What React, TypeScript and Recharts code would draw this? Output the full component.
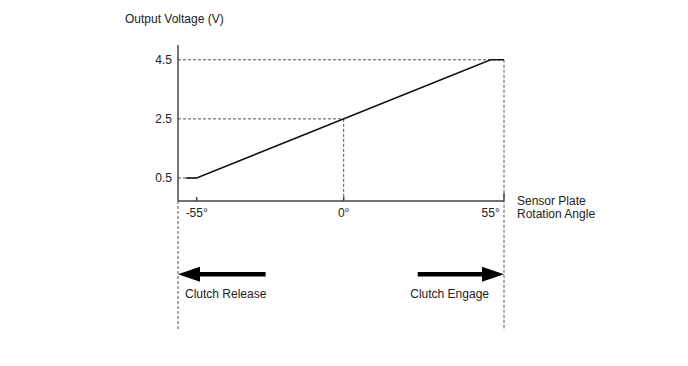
import React from "react";
import { ComposedChart, Line, XAxis, YAxis, ReferenceLine } from "recharts";

// Data
const angles = [-59, -55, 55, 60];
const voltages = [0.5, 0.5, 4.5, 4.5];
const xTicks = [-55, 0, 55];
const yTicks = [0.5, 2.5, 4.5];
const xDomain = [-62, 60];
const yDomain = [-0.28, 5];
const lineData = angles.map((a, i) => ({ a, v: voltages[i] }));

// annotation values (data units)
const lowerExtent = -4.66;
const arrowLevel = -2.76;
const releaseArrow = { from: -29.2, to: -62, label: "Clutch Release" };
const engageArrow = { from: 27.7, to: 60, label: "Clutch Engage" };

const FONT = "Liberation Sans, Arial, sans-serif";
const FS = 12;
const TEXT = "#222";
const DASH = "#555";

const XTick = (props: any) => {
  const { x, y, payload } = props;
  const v = payload.value;
  return (
    <g>
      {v !== 55 && <line x1={x} y1={y - 4} x2={x} y2={y} stroke="#444" strokeWidth={1.5} />}
      <text x={x} y={y + 16} textAnchor="middle" fontSize={FS} fontFamily={FONT} fill={TEXT}>
        {`${v}°`}
      </text>
    </g>
  );
};

const makeArrow = (label: string, labelLeft: boolean) => (props: any) => {
  const { x1, y1, x2, y2 } = props;
  const dir = x2 > x1 ? 1 : -1;
  const headLen = 22;
  const half = 7.5;
  const baseX = x2 - dir * headLen;
  const textX = labelLeft ? Math.min(x1, x2) + 7 : Math.max(x1, x2) - 15;
  return (
    <g>
      <line x1={x1} y1={y1} x2={baseX} y2={y2} stroke="#000" strokeWidth={4.5} />
      <polygon points={`${x2},${y2} ${baseX},${y2 - half} ${baseX},${y2 + half}`} fill="#000" />
      <text
        x={textX}
        y={y1 + 24}
        textAnchor={labelLeft ? "start" : "end"}
        fontSize={FS}
        fontFamily={FONT}
        fill={TEXT}
      >
        {label}
      </text>
    </g>
  );
};

export default function App() {
  return (
    <div style={{ position: "absolute", left: 0, top: 0, background: "#fff" }}>
      <ComposedChart
        width={688}
        height={366}
        margin={{ top: 45, right: 184, bottom: 135, left: 138 }}
      >
        <XAxis
          dataKey="a"
          type="number"
          domain={xDomain}
          ticks={xTicks}
          allowDataOverflow
          tickSize={0}
          tickMargin={0}
          tickLine={false}
          tick={<XTick />}
          height={30}
          axisLine={{ stroke: "#444", strokeWidth: 1.5 }}
          label={{
            content: (p: any) => {
              const vb = p.viewBox;
              const x = vb.x + vb.width + 13;
              return (
                <text fontSize={FS} fontFamily={FONT} fill={TEXT}>
                  <tspan x={x} y={vb.y + 4}>Sensor Plate</tspan>
                  <tspan x={x} y={vb.y + 17}>Rotation Angle</tspan>
                </text>
              );
            },
          }}
        />
        <YAxis
          type="number"
          domain={yDomain}
          ticks={yTicks}
          allowDataOverflow
          width={40}
          tickSize={0}
          tickMargin={6}
          tickLine={false}
          tick={{ fontSize: FS, fontFamily: FONT, fill: TEXT }}
          axisLine={{ stroke: "#444", strokeWidth: 1.5 }}
          label={{
            content: (p: any) => {
              const vb = p.viewBox;
              return (
                <text x={vb.x - 13} y={vb.y - 22} fontSize={FS} fontFamily={FONT} fill={TEXT}>
                  Output Voltage (V)
                </text>
              );
            },
          }}
        />
        {/* dashed guide lines */}
        <ReferenceLine segment={[{ x: xDomain[0], y: 4.5 }, { x: xDomain[1], y: 4.5 }]} stroke={DASH} strokeDasharray="3 2" ifOverflow="visible" />
        <ReferenceLine segment={[{ x: xDomain[0], y: 2.5 }, { x: 0, y: 2.5 }]} stroke={DASH} strokeDasharray="3 2" ifOverflow="visible" />
        <ReferenceLine segment={[{ x: xDomain[0], y: 0.5 }, { x: -55, y: 0.5 }]} stroke={DASH} strokeDasharray="3 2" ifOverflow="visible" />
        <ReferenceLine segment={[{ x: 0, y: 2.5 }, { x: 0, y: yDomain[0] }]} stroke={DASH} strokeDasharray="3 2" ifOverflow="visible" />
        <ReferenceLine segment={[{ x: xDomain[1], y: 4.5 }, { x: xDomain[1], y: lowerExtent }]} stroke={DASH} strokeDasharray="3 2" ifOverflow="visible" />
        <ReferenceLine segment={[{ x: xDomain[0], y: yDomain[0] }, { x: xDomain[0], y: lowerExtent }]} stroke={DASH} strokeDasharray="3 2" ifOverflow="visible" />
        {/* axis end tick */}
        <ReferenceLine segment={[{ x: xDomain[1], y: yDomain[0] }, { x: xDomain[1], y: yDomain[0] + 0.27 }]} stroke="#444" strokeWidth={1.5} ifOverflow="visible" />
        <Line
          data={lineData}
          dataKey="v"
          type="linear"
          stroke="#111"
          strokeWidth={1.5}
          dot={false}
          activeDot={false}
          isAnimationActive={false}
        />
        {/* arrows */}
        <ReferenceLine
          segment={[{ x: releaseArrow.from, y: arrowLevel }, { x: releaseArrow.to, y: arrowLevel }]}
          ifOverflow="visible"
          shape={makeArrow(releaseArrow.label, true)}
        />
        <ReferenceLine
          segment={[{ x: engageArrow.from, y: arrowLevel }, { x: engageArrow.to, y: arrowLevel }]}
          ifOverflow="visible"
          shape={makeArrow(engageArrow.label, false)}
        />
      </ComposedChart>
    </div>
  );
}
